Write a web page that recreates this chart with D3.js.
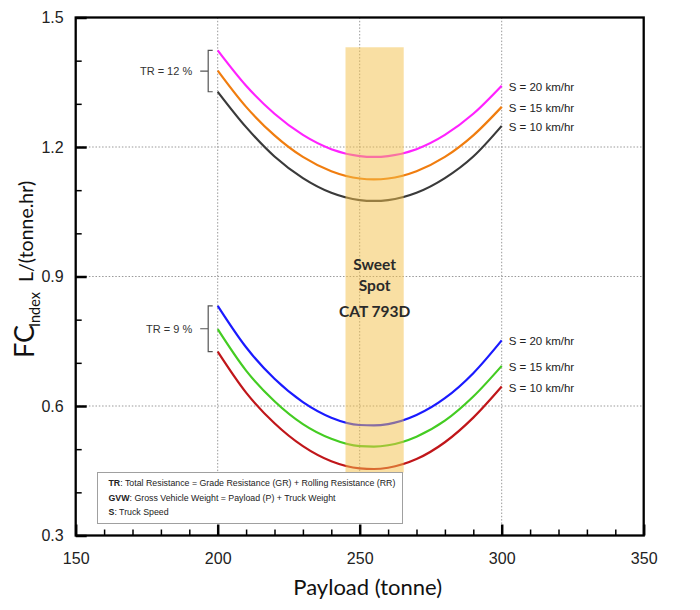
<!DOCTYPE html>
<html><head><meta charset="utf-8">
<script src="https://cdn.jsdelivr.net/npm/d3@7"></script>
<style>body{margin:0;background:#fff}svg{display:block}</style>
</head><body>
<svg id="chart" width="700" height="610"></svg>
<script>
// ---- data ----
const payload = [200,210,220,230,240,250,255,260,270,280,290,300];
const tr12_s20 = [1.424,1.342,1.277,1.228,1.195,1.179,1.177,1.179,1.195,1.228,1.277,1.342];
const tr12_s15 = [1.377,1.293,1.227,1.177,1.144,1.127,1.125,1.127,1.144,1.177,1.227,1.293];
const tr12_s10 = [1.328,1.246,1.178,1.128,1.094,1.077,1.075,1.077,1.094,1.128,1.178,1.249];
const tr9_s20  = [0.832,0.736,0.663,0.609,0.573,0.556,0.555,0.558,0.579,0.618,0.676,0.752];
const tr9_s15  = [0.778,0.682,0.611,0.558,0.524,0.507,0.506,0.509,0.529,0.566,0.622,0.693];
const tr9_s10  = [0.726,0.631,0.560,0.507,0.472,0.4555,0.454,0.457,0.477,0.516,0.573,0.645];
const speedLabels = ["S = 20 km/hr","S = 15 km/hr","S = 10 km/hr"];
const groupLabels = ["TR = 12 %","TR = 9 %"];
const sweetSpotX = [245, 265.5];
const sweetSpotY = [0.446, 1.431];
const sweetText = ["Sweet","Spot","CAT 793D"];
const xTicks = [150,200,250,300,350];
const yTicks = [0.3,0.6,0.9,1.2,1.5];
const xGrid = [200,250,300];
const yGrid = [0.6,0.9,1.2];
const notes = [["TR",": Total Resistance = Grade Resistance (GR) + Rolling Resistance (RR)"],
               ["GVW",": Gross Vehicle Weight = Payload (P) + Truck Weight"],
               ["S",": Truck Speed"]];

const groups = [
  {label: groupLabels[0], series: [tr12_s20,tr12_s15,tr12_s10], colors:["#ff22ff","#f07d0f","#3a3a3a"]},
  {label: groupLabels[1], series: [tr9_s20,tr9_s15,tr9_s10], colors:["#1a1aff","#44cc22","#c0161a"]}
];

const svg = d3.select("#chart");
const x = d3.scaleLinear().domain([150,350]).range([75.7,643.7]);
const y = d3.scaleLinear().domain([0.3,1.5]).range([535.5,17.5]);

// grid
svg.append("g").selectAll("line").data(xGrid).join("line")
  .attr("x1",d=>x(d)).attr("x2",d=>x(d)).attr("y1",y(1.5)).attr("y2",y(0.3))
  .attr("stroke","#999").attr("stroke-width",1).attr("stroke-dasharray","1.5,1.8");
svg.append("g").selectAll("line").data(yGrid).join("line")
  .attr("y1",d=>y(d)).attr("y2",d=>y(d)).attr("x1",x(150)).attr("x2",x(350))
  .attr("stroke","#999").attr("stroke-width",1).attr("stroke-dasharray","1.5,1.8");

// curves
const line = d3.line().x((d,i)=>x(payload[i])).y(d=>y(d)).curve(d3.curveMonotoneX);
groups.forEach(g=>{
  g.series.forEach((s,k)=>{
    svg.append("path").datum(s).attr("d",line).attr("fill","none")
      .attr("stroke",g.colors[k]).attr("stroke-width",2.2);
    svg.append("text").attr("x",x(300)+7).attr("y",y(s[s.length-1])+1).attr("dy","0.35em")
      .attr("font-family","Liberation Sans, Arial, sans-serif").attr("font-size",11.5)
      .attr("fill","#222").text(speedLabels[k]);
  });
  const top = y(g.series[0][0]), bot = y(g.series[2][0]), mid = (top+bot)/2;
  const bx = x(200)-9.5;
  svg.append("path").attr("d",`M${bx+4.5},${top}H${bx}V${bot}H${bx+4.5}M${bx},${mid}H${bx-8}`)
    .attr("fill","none").attr("stroke","#555").attr("stroke-width",1.2);
  svg.append("text").attr("x",bx-16).attr("y",mid).attr("dy","0.35em").attr("text-anchor","end")
    .attr("font-family","Liberation Sans, Arial, sans-serif").attr("font-size",11)
    .attr("fill","#333").text(g.label);
});

// sweet spot
svg.append("rect").attr("x",x(sweetSpotX[0])).attr("width",x(sweetSpotX[1])-x(sweetSpotX[0]))
  .attr("y",y(sweetSpotY[1])).attr("height",y(sweetSpotY[0])-y(sweetSpotY[1]))
  .attr("fill","rgb(244,192,72)").attr("opacity",0.5);
const cx = (x(sweetSpotX[0])+x(sweetSpotX[1]))/2;
[265,286,312].forEach((ty,i)=>{
  svg.append("text").attr("x",cx).attr("y",ty).attr("dy","0.35em").attr("text-anchor","middle")
    .attr("font-family","Lato, sans-serif").attr("font-weight","bold").attr("font-size",15.5)
    .attr("fill","#2a2a2a").text(sweetText[i]);
});

// notes box
const nb = svg.append("g");
nb.append("rect").attr("x",97.5).attr("y",472.5).attr("width",305).attr("height",51)
  .attr("fill","#fff").attr("stroke","#a0a0a0").attr("stroke-width",1);
notes.forEach((n,i)=>{
  const t = nb.append("text").attr("x",108.5).attr("y",483+i*14.6).attr("dy","0.35em")
    .attr("font-family","Liberation Sans, Arial, sans-serif").attr("font-size",8.8).attr("fill","#222");
  t.append("tspan").attr("font-weight","bold").text(n[0]);
  t.append("tspan").text(n[1]);
});

// axes
const font = "Liberation Sans, Arial, sans-serif";
function styleAxis(g){ g.select(".domain").remove(); g.selectAll("text").attr("font-family",font).attr("font-size",16).attr("fill","#222"); }
const minorX = d3.range(150,351,10).filter(v=>v%50!==0);
const minorY = d3.range(3,16,1).map(v=>v/10).filter(v=>Math.round(v*10)%3!==0);
svg.append("g").attr("transform",`translate(0,${y(0.3)})`)
  .call(d3.axisBottom(x).tickValues(minorX).tickSize(-6).tickFormat(""))
  .call(g=>{g.select(".domain").remove(); g.selectAll("line").attr("stroke","#000").attr("stroke-width",1.5);});
svg.append("g").attr("transform",`translate(0,${y(0.3)})`)
  .call(d3.axisBottom(x).tickValues(xTicks).tickSize(-11).tickPadding(17).tickFormat(d3.format("d")))
  .call(styleAxis).call(g=>g.selectAll("line").attr("stroke","#000").attr("stroke-width",2.5));
svg.append("g").attr("transform",`translate(${x(150)},0)`)
  .call(d3.axisLeft(y).tickValues(minorY).tickSize(-6).tickFormat(""))
  .call(g=>{g.select(".domain").remove(); g.selectAll("line").attr("stroke","#000").attr("stroke-width",1.5);});
svg.append("g").attr("transform",`translate(${x(150)},0)`)
  .call(d3.axisLeft(y).tickValues(yTicks).tickSize(-11).tickPadding(12).tickFormat(d3.format(".1f")))
  .call(styleAxis).call(g=>g.selectAll("line").attr("stroke","#000").attr("stroke-width",2.5));

// frame
svg.append("rect").attr("x",x(150)).attr("y",y(1.5)).attr("width",x(350)-x(150)).attr("height",y(0.3)-y(1.5))
  .attr("fill","none").attr("stroke","#000").attr("stroke-width",2.3);

// axis titles
svg.append("text").attr("x",(x(150)+x(350))/2+8).attr("y",587).attr("dy","0.35em").attr("text-anchor","middle")
  .attr("font-family","Lato, sans-serif").attr("font-size",22).attr("fill","#111").text("Payload (tonne)");
svg.append("text").attr("transform","translate(34,358) rotate(-90)")
  .attr("font-family","Lato, sans-serif").attr("font-size",27).attr("fill","#111").text("FC");
svg.append("text").attr("transform","translate(40,327) rotate(-90)")
  .attr("font-family","Lato, sans-serif").attr("font-size",14.5).attr("fill","#111").text("Index");
svg.append("text").attr("transform","translate(33,282) rotate(-90)")
  .attr("font-family","Lato, sans-serif").attr("font-size",19.5).attr("fill","#111").text("L/(tonne.hr)");
</script>
</body></html>
